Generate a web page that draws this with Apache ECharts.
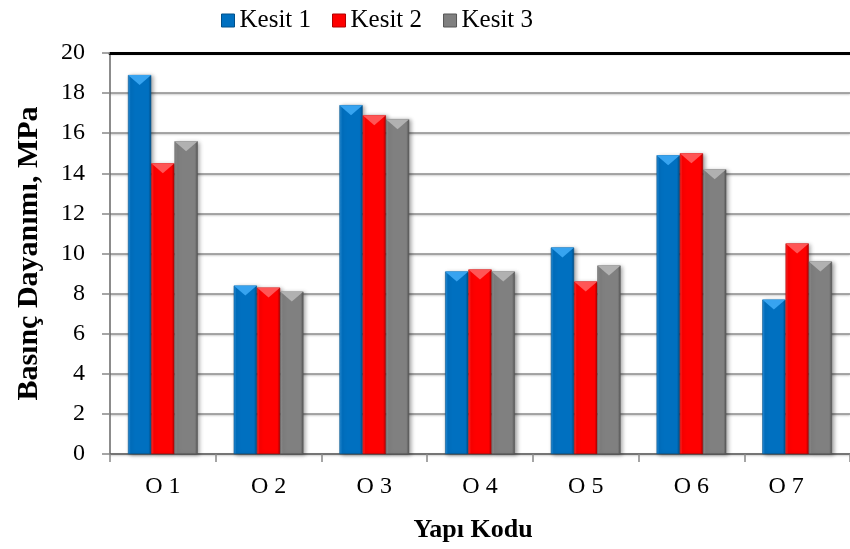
<!DOCTYPE html>
<html>
<head>
<meta charset="utf-8">
<script src="https://cdn.jsdelivr.net/npm/echarts@6/dist/echarts.min.js"></script>
<style>html,body{margin:0;padding:0;background:#fff}#c{width:850px;height:549px}</style>
</head>
<body>
<div id="c"></div>
<script>
var categories = ['O 1','O 2','O 3','O 4','O 5','O 6','O 7'];
var kesit1 = [18.9, 8.4, 17.4, 9.1, 10.3, 14.9, 7.7];
var kesit2 = [14.5, 8.3, 16.9, 9.2, 8.6, 15.0, 10.5];
var kesit3 = [15.6, 8.1, 16.7, 9.1, 9.4, 14.2, 9.6];
var seriesNames = ['Kesit 1','Kesit 2','Kesit 3'];
var yTicks = [0,2,4,6,8,10,12,14,16,18,20];

var FONT = '"Liberation Serif","Times New Roman",serif';
var palettes = [
  {main:'#0070C0', dark:'#00508a', light:'#2f95e0', top:'#3aa6f2'},
  {main:'#FF0000', dark:'#b00000', light:'#ff3030', top:'#ff5a5a'},
  {main:'#808080', dark:'#555555', light:'#939393', top:'#b4b4b4'}
];
var datasets = [kesit1, kesit2, kesit3];

function grad(p){
  return new echarts.graphic.LinearGradient(0,0,1,0,[
    {offset:0, color:p.light},
    {offset:0.12, color:p.main},
    {offset:0.88, color:p.main},
    {offset:1, color:p.dark}
  ]);
}

var series = [];
datasets.forEach(function(d,i){
  var p = palettes[i];
  series.push({
    name: seriesNames[i], type:'bar', data:d,
    barGap:'0%', barCategoryGap:'34%',
    itemStyle:{color:grad(p), borderColor:p.dark, borderWidth:0.6,
      shadowColor:'rgba(0,0,0,0.35)', shadowBlur:4, shadowOffsetX:2, shadowOffsetY:1},
    emphasis:{disabled:true}
  });
});
datasets.forEach(function(d,i){
  var p = palettes[i];
  series.push({
    name: seriesNames[i], type:'pictorialBar', data:d,
    barGap:'0%', barCategoryGap:'34%',
    symbol:'path://M0,0 L10,0 L5,4 Z',
    symbolSize:['100%',10], symbolPosition:'end', symbolOffset:[0,0],
    itemStyle:{color:p.top, opacity:0.95},
    z:3, silent:true
  });
});

var chart = echarts.init(document.getElementById('c'), null, {renderer:'canvas'});
chart.setOption({
  animation:false,
  backgroundColor:'#fff',
  textStyle:{fontFamily:FONT},
  legend:{
    data: seriesNames.map(function(n,i){return {name:n, itemStyle:{color:palettes[i].main, borderColor:palettes[i].dark, borderWidth:1}};}),
    left:216, top:3, itemWidth:13, itemHeight:13, itemGap:21, icon:'rect',
    textStyle:{fontFamily:FONT, fontSize:25, color:'#000'}
  },
  grid:{left:110, top:53, width:747, height:401, containLabel:false},
  xAxis:[{
    type:'category', data:categories,
    axisLine:{lineStyle:{color:'#666', width:1.5}},
    axisTick:{show:true, length:8, lineStyle:{color:'#888', width:1.5}},
    axisLabel:{fontFamily:FONT, fontSize:24, color:'#000', margin:21,
      formatter:function(v, idx){ return idx === categories.length-1 ? '{s|'+v+'}' : v; },
      rich:{s:{fontFamily:FONT, fontSize:24, color:'#000', padding:[0,22,0,0]}}},
    name:'Yapı Kodu', nameLocation:'middle', nameGap:63,
    nameTextStyle:{fontFamily:FONT, fontSize:26, fontWeight:'bold', color:'#000', padding:[0,14,0,0]}
  },{
    type:'category', data:categories, position:'top',
    axisLine:{lineStyle:{color:'#000', width:3}},
    axisTick:{show:false}, axisLabel:{show:false}
  }],
  yAxis:{
    type:'value', min:yTicks[0], max:yTicks[yTicks.length-1], interval:2,
    axisLine:{show:true, lineStyle:{color:'#666', width:1.5}},
    axisTick:{show:true, length:8, lineStyle:{color:'#888', width:1.5}},
    axisLabel:{fontFamily:FONT, fontSize:24, color:'#000', margin:25},
    splitLine:{lineStyle:{color:'#8c8c8c', width:1.5, shadowColor:'rgba(0,0,0,0.25)', shadowBlur:2, shadowOffsetY:1}},
    name:'Basınç Dayanımı, MPa', nameLocation:'middle', nameGap:66,
    nameTextStyle:{fontFamily:FONT, fontSize:30, fontWeight:'bold', color:'#000'}
  },
  series:series
});
</script>
</body>
</html>
